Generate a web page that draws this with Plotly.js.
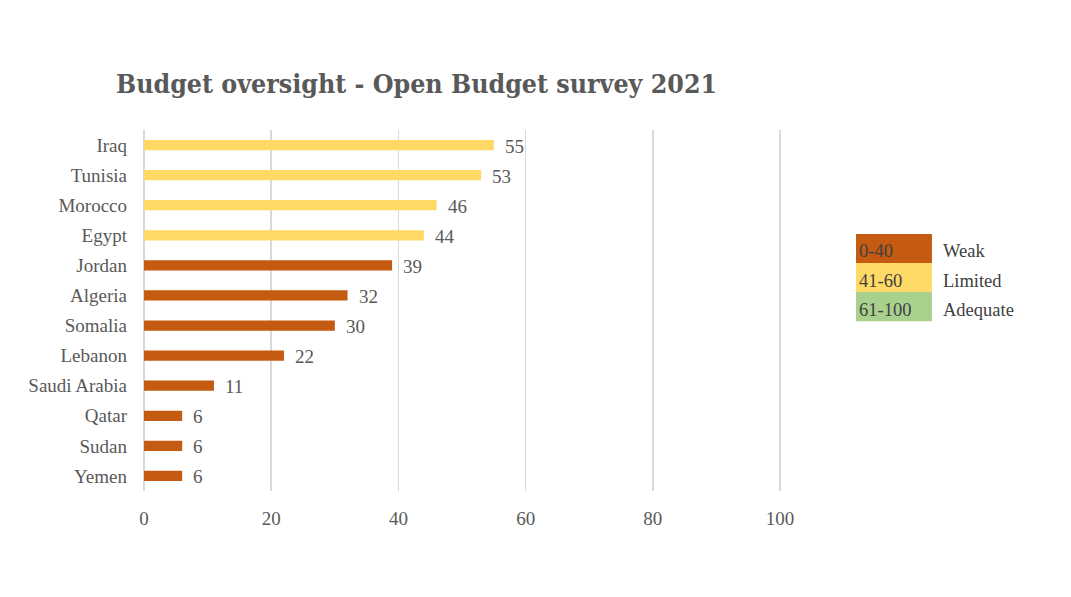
<!DOCTYPE html>
<html>
<head>
<meta charset="utf-8">
<script src="https://cdn.plot.ly/plotly-3.0.1.min.js"></script>
<style>html,body{margin:0;padding:0;background:#fff;}#chart{width:1071px;height:597px;}</style>
</head>
<body>
<div id="chart"></div>
<script>
const countries = ["Iraq","Tunisia","Morocco","Egypt","Jordan","Algeria","Somalia","Lebanon","Saudi Arabia","Qatar","Sudan","Yemen"];
const scores = [55,53,46,44,39,32,30,22,11,6,6,6];
const xTicks = [0,20,40,60,80,100];
const legendRanges = ["0-40","41-60","61-100"];
const legendLabels = ["Weak","Limited","Adequate"];
const legendMax = [40,60,100];
const legendColors = ["#C55A11","#FFD966","#A9D18E"];

function colorFor(v){
  for (let i=0;i<legendMax.length;i++){ if (v<=legendMax[i]) return legendColors[i]; }
  return legendColors[legendColors.length-1];
}

const labelFont = {family:"Liberation Serif, DejaVu Serif, serif", size:19, color:"#595959"};

const trace = {
  type:"bar", orientation:"h",
  y: countries, x: scores,
  marker:{color: scores.map(colorFor)},
  width:0.34,
  hoverinfo:"none"
};

const shapes = [], annotations = [];
scores.forEach((v,i)=>{
  annotations.push({xref:"x", yref:"y", x:v, y:countries[i], xanchor:"left", yanchor:"middle",
    xshift:9, yshift:-1, text:String(v), showarrow:false, font:labelFont});
});
const lx0 = 1.116, lx1 = 1.235, ltop = 0.712, lh = 0.0805;
const legFont = {family:"Liberation Serif, serif", size:18.5, color:"#404040"};
legendRanges.forEach((r,i)=>{
  const y1 = ltop - i*lh, y0 = y1 - lh;
  shapes.push({type:"rect", xref:"paper", yref:"paper", x0:lx0, x1:lx1, y0:y0, y1:y1,
    fillcolor:legendColors[i], line:{width:0}});
  annotations.push({xref:"paper", yref:"paper", x:lx0+0.001, y:(y0+y1)/2, xanchor:"left", yanchor:"middle",
    yshift:-3, text:r, showarrow:false, font:legFont});
  annotations.push({xref:"paper", yref:"paper", x:1.249, y:(y0+y1)/2, xanchor:"left", yanchor:"middle",
    yshift:-3, text:legendLabels[i], showarrow:false, font:legFont});
});

const layout = {
  width:1071, height:597,
  margin:{l:144, r:289, t:130, b:106},
  paper_bgcolor:"#fff", plot_bgcolor:"#fff",
  title:{text:"Budget oversight - Open Budget survey 2021", x:116/1071, xanchor:"left", y:1-84/597, yanchor:"middle",
    font:{family:"DejaVu Serif Condensed, DejaVu Serif, serif", size:26.5, color:"#595959", weight:"bold"}},
  xaxis:{range:[0,100.3], tickvals:xTicks, showgrid:true, gridcolor:"#d9d9d9", gridwidth:1.5,
    zeroline:true, zerolinecolor:"#d9d9d9", zerolinewidth:1.5, showline:false, ticks:"",
    ticklabelstandoff:14, tickfont:labelFont, fixedrange:true},
  yaxis:{categoryorder:"array", categoryarray:countries, autorange:"reversed", showgrid:false, zeroline:false,
    ticks:"", ticklabelstandoff:16, tickfont:labelFont, fixedrange:true},
  showlegend:false,
  shapes:shapes, annotations:annotations
};

Plotly.newPlot("chart",[trace],layout,{displayModeBar:false, staticPlot:true});
</script>
</body>
</html>
